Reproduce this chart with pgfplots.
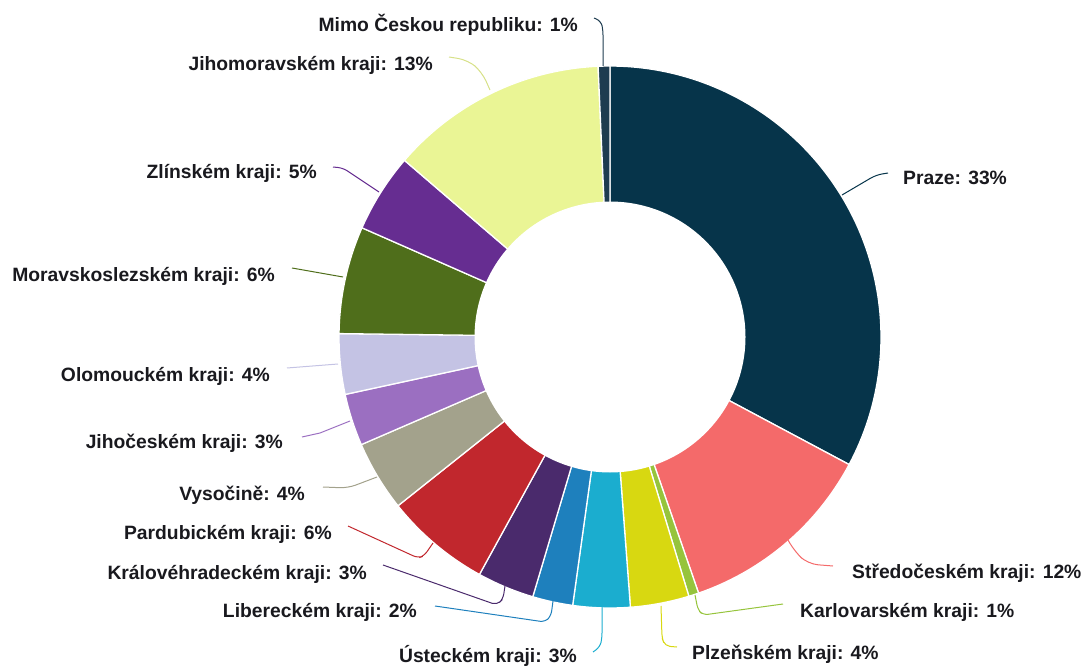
\documentclass[border=0pt]{standalone}
\usepackage{pgfplots}
\pgfplotsset{compat=1.18}
\usepackage{fontspec}
\setmainfont{Liberation Sans}
\definecolor{cPraha}{RGB}{6,52,74}
\definecolor{cStred}{RGB}{244,106,106}
\definecolor{cKarl}{RGB}{150,196,60}
\definecolor{cPlz}{RGB}{216,216,17}
\definecolor{cUst}{RGB}{27,173,207}
\definecolor{cLib}{RGB}{30,128,189}
\definecolor{cKH}{RGB}{74,42,108}
\definecolor{cPard}{RGB}{193,39,45}
\definecolor{cVys}{RGB}{163,162,140}
\definecolor{cJihoc}{RGB}{155,111,193}
\definecolor{cOlom}{RGB}{196,195,228}
\definecolor{cMS}{RGB}{79,110,27}
\definecolor{cZlin}{RGB}{102,45,145}
\definecolor{cJM}{RGB}{234,245,149}
\definecolor{cMimo}{RGB}{30,60,80}
\definecolor{txt}{RGB}{25,25,30}
\def\cum{0}
% #1 = share in percent, #2 = colour
\newcommand\slice[2]{%
  \pgfmathsetmacro\aStart{3.6*\cum}%
  \pgfmathsetmacro\newcum{\cum+#1}%
  \pgfmathsetmacro\aEnd{3.6*\newcum}%
  \xdef\cum{\newcum}%
  \edef\tmp{\noexpand\addplot[fill=#2, draw=white, line width=1.3pt, line join=round, domain=\aStart:\aEnd, samples=90, variable=\noexpand\t] ({610+271*sin(\noexpand\t)},{337-271*cos(\noexpand\t)}) -- (axis cs:610,337) -- cycle;}%
  \tmp}
\newcommand\lab[4]{\node[anchor=base #1, inner sep=0pt, text=txt, font=\bfseries\fontsize{19.3}{23}\selectfont] at (axis cs:#2,#3) {#4};}
\begin{document}
\begin{tikzpicture}
\begin{axis}[
  scale only axis, width=1084pt, height=668pt,
  xmin=0, xmax=1084, ymin=0, ymax=668, y dir=reverse,
  hide axis, clip=false,
]
\slice{32.8}{cPraha}
\slice{11.9}{cStred}
\slice{0.6}{cKarl}
\slice{3.5}{cPlz}
\slice{3.4}{cUst}
\slice{2.4}{cLib}
\slice{3.4}{cKH}
\slice{6.3}{cPard}
\slice{4.2}{cVys}
\slice{3.1}{cJihoc}
\slice{3.6}{cOlom}
\slice{6.4}{cMS}
\slice{4.7}{cZlin}
\slice{13.0}{cJM}
\slice{0.7}{cMimo}
\addplot[fill=white, draw=none, domain=0:360, samples=181] ({610+135.5*sin(x)},{337-135.5*cos(x)}) -- cycle;
% leader lines
\addplot[cMimo, line width=1pt, rounded corners=5pt] coordinates {(594,18) (601,21) (603,30) (603,66)};
\addplot[cJM!92!black, line width=1pt, rounded corners=10pt] coordinates {(449,57) (468,60) (482,72) (490,90)};
\addplot[cPraha, line width=1pt, rounded corners=6pt] coordinates {(888,173) (876,175) (842,195)};
\addplot[cStred, line width=1pt, rounded corners=10pt] coordinates {(833,566) (808,564) (795,552) (788,540)};
\addplot[cKarl, line width=1pt, rounded corners=5pt] coordinates {(783,604) (703,615) (698,610) (695,595)};
\addplot[cPlz, line width=1pt, rounded corners=5pt] coordinates {(677,647) (665,646) (662,638) (661,606)};
\addplot[cUst, line width=1pt, rounded corners=5pt] coordinates {(593,652) (600,647) (602,638) (602,607)};
\addplot[cLib, line width=1pt, rounded corners=5pt] coordinates {(435,606) (545,622) (551,616) (553,601)};
\addplot[cKH, line width=1pt, rounded corners=5pt] coordinates {(383,565) (497,605) (503,599) (505,586)};
\addplot[cPard, line width=1pt, rounded corners=5pt] coordinates {(348,526) (418,558) (424,556) (433,543)};
\addplot[cVys, line width=1pt, rounded corners=8pt] coordinates {(323,487) (348,488) (377,477)};
\addplot[cJihoc, line width=1pt] coordinates {(302,437) (320,433) (350,421)};
\addplot[cOlom, line width=1pt] coordinates {(287,368) (338,364)};
\addplot[cMS, line width=1pt] coordinates {(292,268) (343,277)};
\addplot[cZlin, line width=1pt, rounded corners=5pt] coordinates {(333,167) (343,168) (379,192)};
% labels
\lab{east}{578}{32}{Mimo Českou republiku: 1\%}
\lab{east}{433}{71}{Jihomoravském kraji: 13\%}
\lab{west}{903}{185}{Praze: 33\%}
\lab{east}{317}{179}{Zlínském kraji: 5\%}
\lab{east}{275}{282}{Moravskoslezském kraji: 6\%}
\lab{east}{270}{381}{Olomouckém kraji: 4\%}
\lab{east}{283}{448}{Jihočeském kraji: 3\%}
\lab{east}{305}{500}{Vysočině: 4\%}
\lab{east}{332}{539}{Pardubickém kraji: 6\%}
\lab{west}{852}{578}{Středočeském kraji: 12\%}
\lab{east}{367}{579}{Královéhradeckém kraji: 3\%}
\lab{west}{800}{617}{Karlovarském kraji: 1\%}
\lab{east}{417}{617}{Libereckém kraji: 2\%}
\lab{east}{577}{662}{Ústeckém kraji: 3\%}
\lab{west}{692}{659}{Plzeňském kraji: 4\%}
\end{axis}
\pgfresetboundingbox
\path (current axis.south west) rectangle (current axis.north east);
\end{tikzpicture}
\end{document}
